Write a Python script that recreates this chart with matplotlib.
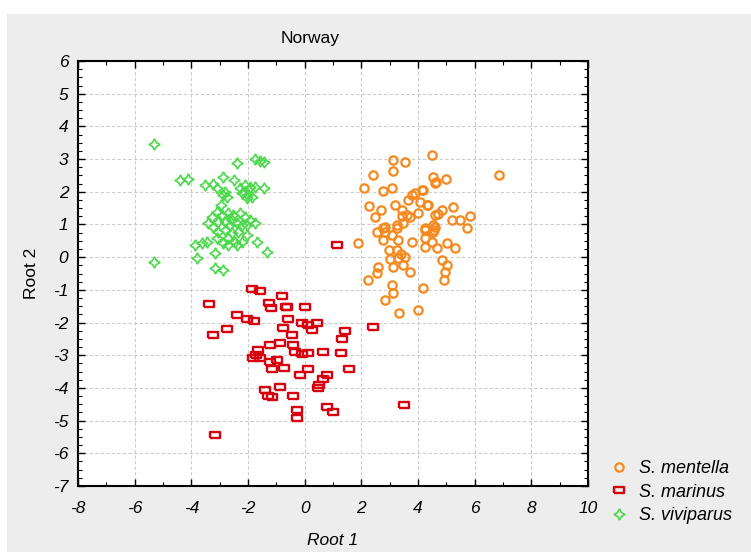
import matplotlib

matplotlib.use("Agg")

import matplotlib.pyplot as plt
from matplotlib.patches import Rectangle
from matplotlib.ticker import MultipleLocator

plt.rcParams["font.family"] = ["Liberation Sans", "DejaVu Sans"]
plt.rcParams["axes.unicode_minus"] = False

# S. mentella (orange circles)
mentella_x = [3.13, 3.54, 4.48, 3.13, 2.42, 2.10, 2.78, 3.10, 4.54, 4.64, 3.78, 4.13, 3.66, 4.07,
              4.37, 2.28, 3.42, 3.60, 2.48, 3.45, 3.72, 4.60, 2.84, 2.78, 3.25, 3.48, 4.25, 4.60,
              4.60, 5.00, 6.86, 4.19, 4.31, 4.84, 4.72, 5.25, 5.19, 5.48, 5.84, 5.72, 4.54, 4.55,
              1.89, 2.54, 2.84, 2.78, 3.07, 3.31, 3.25, 3.78, 2.96, 3.25, 3.31, 3.54, 3.48, 3.13,
              3.72, 4.25, 4.25, 4.25, 4.48, 4.66, 5.01, 5.31, 4.54, 4.84, 5.01, 4.95, 4.90, 2.60,
              2.54, 2.25, 3.07, 3.13, 2.84, 4.19, 4.01, 3.34, 3.00, 3.40, 2.70, 3.90, 4.00, 3.20]
mentella_y = [2.97, 2.92, 3.13, 2.64, 2.51, 2.11, 2.03, 2.11, 2.46, 2.31, 1.90, 2.06, 1.75, 1.70,
              1.60, 1.57, 1.44, 1.29, 1.22, 1.25, 1.24, 1.29, 0.93, 0.88, 0.98, 1.04, 0.83, 0.93,
              2.26, 2.38, 2.51, 2.06, 1.60, 1.44, 1.31, 1.54, 1.14, 1.14, 1.27, 0.88, 0.98, 0.82,
              0.43, 0.78, 0.78, 0.53, 0.68, 0.53, 0.88, 0.47, 0.23, 0.23, -0.03, 0.02, -0.24, -0.29,
              -0.44, 0.88, 0.58, 0.32, 0.47, 0.27, 0.43, 0.27, 0.78, -0.09, -0.24, -0.44, -0.70, -0.29,
              -0.49, -0.70, -0.85, -1.10, -1.31, -0.95, -1.61, -1.72, -0.05, 0.10, 1.45, 1.95, 1.35, 1.60]

# S. marinus (red squares)
marinus_x = [-1.87, -1.58, -0.79, -3.38, -1.26, -1.19, -0.67, -2.40, -2.05, -1.78, -0.58, -2.75,
             -3.22, -0.75, -0.46, -1.64, -1.22, -0.87, -0.40, -0.34, -1.81, -1.58, -1.22, -0.99,
             -1.16, -0.72, -0.18, -1.40, -1.14, -0.87, -0.40, -0.26, -0.28, -0.63, 0.00, -0.11,
             0.13, 0.25, 0.42, 1.42, 1.31, 2.40, 0.13, 0.64, 1.28, 0.13, 1.58, 0.78, 0.66, 0.48,
             0.50, 1.01, 0.78, 1.14, 3.51, -3.16, -1.70, -1.30, -0.10]
marinus_y = [-0.98, -1.05, -1.19, -1.43, -1.41, -1.56, -1.53, -1.77, -1.90, -1.95, -1.90, -2.20,
             -2.38, -2.17, -2.38, -2.84, -2.69, -2.63, -2.69, -2.89, -3.09, -3.09, -3.20, -3.14,
             -3.43, -3.40, -3.60, -4.06, -4.28, -3.96, -4.24, -4.67, -4.93, -1.53, -1.53, -2.02,
             -2.07, -2.23, -2.00, -2.25, -2.51, -2.14, -2.94, -2.89, -2.92, -3.43, -3.43, -3.60,
             -3.73, -4.01, -3.90, -4.75, -4.59, 0.37, -4.52, -5.44, -3.00, -4.25, -2.95]

# S. viviparus (green stars)
viviparus_x = [-5.30, -5.30, -2.40, -1.75, -1.58, -1.42, -4.40, -4.11, -2.87, -2.48, -3.52, -3.22,
               -3.10, -2.81, -2.75, -2.87, -2.28, -2.11, -1.93, -1.75, -1.42, -2.22, -2.05, -1.87,
               -2.05, -3.28, -3.10, -2.93, -2.69, -2.52, -2.28, -2.10, -1.93, -1.75, -3.40, -3.22,
               -3.05, -2.81, -2.63, -2.40, -2.22, -2.05, -3.05, -2.81, -2.58, -2.34, -2.69, -2.46,
               -2.05, -1.69, -3.10, -2.87, -2.69, -2.40, -2.22, -3.87, -3.63, -3.46, -3.81, -3.16,
               -1.34, -3.16, -2.87, -2.55, -2.95]
viviparus_y = [3.45, -0.15, 2.87, 3.00, 2.94, 2.90, 2.36, 2.38, 2.46, 2.36, 2.21, 2.23,
               2.10, 2.00, 1.85, 1.90, 2.10, 2.21, 2.16, 2.16, 2.13, 1.95, 1.90, 1.85,
               1.80, 1.24, 1.39, 1.29, 1.34, 1.29, 1.34, 1.24, 1.14, 1.04, 1.04, 0.93,
               1.09, 1.09, 0.98, 1.04, 0.98, 0.98, 0.78, 0.83, 0.73, 0.78, 0.58, 0.47,
               0.68, 0.47, 0.58, 0.43, 0.37, 0.37, 0.47, 0.37, 0.43, 0.47, -0.03, 0.12,
               0.17, -0.34, -0.39, 1.15, 1.60]

species = ["S. mentella", "S. marinus", "S. viviparus"]

rect_marker = [(-1.35, -1), (1.35, -1), (1.35, 1), (-1.35, 1), (-1.35, -1)]

fig = plt.figure(figsize=(7.51, 5.52), dpi=100, facecolor="white")
fig.patches.append(Rectangle((7 / 751, 0), 1, 1 - 14 / 552, transform=fig.transFigure,
                             facecolor="#ededed", edgecolor="none", zorder=-10))

ax = fig.add_axes([78 / 751, 1 - 486 / 552, 510 / 751, 425 / 552])
ax.set_facecolor("white")

ax.plot(mentella_x, mentella_y, linestyle="none", marker="o", markersize=6,
        markerfacecolor="none", markeredgecolor="#f5891e", markeredgewidth=1.6, label=species[0])
ax.plot(marinus_x, marinus_y, linestyle="none", marker=rect_marker, markersize=6.8,
        markerfacecolor="none", markeredgecolor="#d8000f", markeredgewidth=1.7, label=species[1])
ax.plot(viviparus_x, viviparus_y, linestyle="none", marker=(4, 1, 0), markersize=8,
        markerfacecolor="none", markeredgecolor="#4ad94a", markeredgewidth=1.2, label=species[2])

ax.set_xlim(-8, 10)
ax.set_ylim(-7, 6)
ax.xaxis.set_major_locator(MultipleLocator(2))
ax.xaxis.set_minor_locator(MultipleLocator(1))
ax.yaxis.set_major_locator(MultipleLocator(1))
ax.yaxis.set_minor_locator(MultipleLocator(0.25))
ax.tick_params(which="both", direction="in", top=True, right=True, labelsize=12.5)
ax.tick_params(axis="x", which="major", pad=11)
ax.tick_params(axis="y", which="major", pad=7)
ax.tick_params(which="major", length=5, width=1)
ax.tick_params(which="minor", length=3, width=0.8)
for lab in ax.get_xticklabels() + ax.get_yticklabels():
    lab.set_fontstyle("italic")
ax.grid(True, which="major", linestyle=(0, (3, 2)), color="#cccccc", linewidth=0.8)
for sp in ax.spines.values():
    sp.set_linewidth(1.5)
    sp.set_color("black")

ax.set_xlabel("Root 1", fontsize=12.5, fontstyle="italic", labelpad=12)
ax.set_ylabel("Root 2", fontsize=12.5, labelpad=10)
fig.text(310 / 751, 1 - 38 / 552, "Norway", fontsize=12.5, ha="center", va="center")

leg = ax.legend(loc="upper left", bbox_to_anchor=(525 / 510, 33 / 425), frameon=False,
                handlelength=1.0, handletextpad=0.6, labelspacing=0.35, borderaxespad=0,
                prop={"style": "italic", "size": 13})

fig.savefig("out.png", dpi=100, facecolor=fig.get_facecolor())
